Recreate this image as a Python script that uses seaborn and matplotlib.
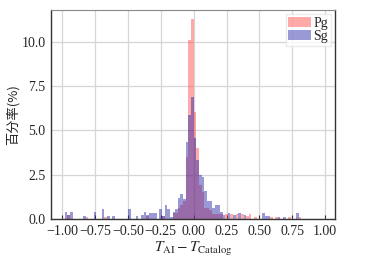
import numpy as np
import pandas as pd
import seaborn as sns
import matplotlib.pyplot as plt

# 误差直方图数据: 区间中心 (s) 与 百分率 (%)
sg_centers = [-0.97, -0.95, -0.93, -0.83, -0.75, -0.69, -0.65, -0.61, -0.49, -0.43,
              -0.39, -0.37, -0.35, -0.33, -0.31, -0.29, -0.25, -0.23, -0.21, -0.19,
              -0.17, -0.15, -0.13, -0.11, -0.09, -0.07, -0.05, -0.03, -0.01, 0.01,
              0.03, 0.05, 0.07, 0.09, 0.11, 0.13, 0.15, 0.17, 0.19, 0.21,
              0.23, 0.27, 0.31, 0.35, 0.39, 0.53, 0.55, 0.57, 0.65, 0.69, 0.79]
sg_pct = [0.38, 0.20, 0.38, 0.17, 0.38, 0.56, 0.17, 0.17, 0.56, 0.17,
          0.20, 0.38, 0.20, 0.36, 0.36, 0.36, 0.55, 0.19, 0.79, 0.55,
          0.13, 0.38, 0.55, 1.20, 1.41, 1.11, 4.37, 5.90, 6.90, 4.60,
          3.35, 2.50, 2.35, 1.60, 1.00, 1.00, 0.60, 0.79, 0.79, 0.40,
          0.20, 0.36, 0.20, 0.36, 0.23, 0.36, 0.17, 0.17, 0.13, 0.13, 0.36]

pg_centers = [-0.95, -0.81, -0.67, -0.35, -0.23, -0.15, -0.13, -0.11, -0.09, -0.07,
              -0.05, -0.03, -0.01, 0.01, 0.03, 0.05, 0.07, 0.09, 0.11, 0.13,
              0.15, 0.17, 0.19, 0.21, 0.25, 0.29, 0.33, 0.37, 0.41, 0.43,
              0.47, 0.59, 0.63, 0.73, 0.81]
pg_pct = [0.20, 0.11, 0.13, 0.19, 0.19, 0.36, 0.36, 0.60, 0.80, 1.00,
          3.50, 10.10, 11.30, 6.06, 4.00, 1.94, 1.50, 0.60, 0.60, 0.50,
          0.30, 0.30, 0.26, 0.26, 0.26, 0.26, 0.26, 0.26, 0.17, 0.26,
          0.13, 0.13, 0.13, 0.13, 0.13]

x_ticks = [-1.00, -0.75, -0.50, -0.25, 0.00, 0.25, 0.50, 0.75, 1.00]
y_ticks = [0.0, 2.5, 5.0, 7.5, 10.0]

sns.set_style("whitegrid")
plt.rcParams['font.family'] = ['Liberation Serif', 'Noto Sans CJK SC']
plt.rcParams['mathtext.fontset'] = 'stix'

sg_df = pd.DataFrame({"dt": sg_centers, "pct": sg_pct})
pg_df = pd.DataFrame({"dt": pg_centers, "pct": pg_pct})

fig = plt.figure(figsize=(3.85, 2.58), dpi=100)
ax = fig.add_axes([0.1325, 0.151, 0.7375, 0.81])

sns.histplot(data=pg_df, x="dt", weights="pct", binwidth=0.02, binrange=(-1.0, 1.0),
             color="#ff4040", alpha=0.45, linewidth=0, label="Pg", ax=ax)
sns.histplot(data=sg_df, x="dt", weights="pct", binwidth=0.02, binrange=(-1.0, 1.0),
             color="#2626a8", alpha=0.47, linewidth=0, label="Sg", ax=ax)

ax.set_xlim(-1.085, 1.075)
ax.set_ylim(0, 11.8)
ax.set_xticks(x_ticks)
ax.set_xticklabels([f"{t:.2f}".replace("-", "\u2212") for t in x_ticks])
ax.set_yticks(y_ticks)
ax.set_yticklabels([f"{t:.1f}" for t in y_ticks])
ax.grid(True, color="#d6d6d6", linewidth=0.9)
ax.set_axisbelow(True)
ax.tick_params(axis="x", direction="in", length=3, color="#333333",
               labelsize=10, pad=4, bottom=True)
ax.tick_params(axis="y", length=0, labelsize=10, pad=4)
for side in ["left", "bottom", "right"]:
    ax.spines[side].set_color("#333333")
    ax.spines[side].set_linewidth(1.0)
ax.spines["top"].set_color("#888888")

ax.set_xlabel(r"$T_{\rm AI}-T_{\rm Catalog}$", fontsize=11, labelpad=2)
ax.set_ylabel("百分率(%)", fontsize=9.5, family=['Noto Sans CJK SC'], labelpad=1)

leg = ax.legend(loc="upper right", fontsize=10, frameon=True, handlelength=1.6,
                handletextpad=0.2, borderpad=0.2, labelspacing=0.0,
                borderaxespad=0.3, fancybox=False)
leg.get_frame().set_edgecolor("#e6e6e6")

plt.savefig("out.png", dpi=100)
plt.close()
